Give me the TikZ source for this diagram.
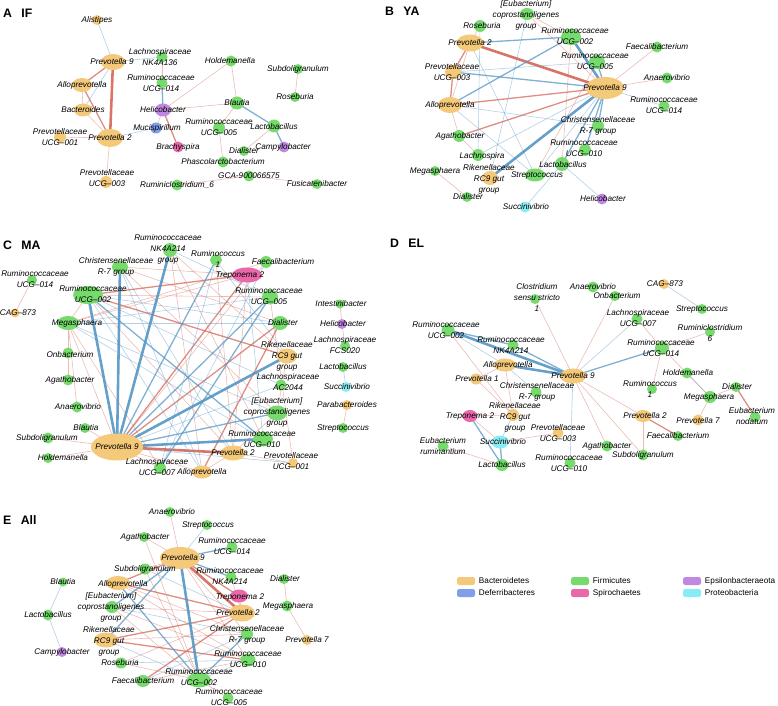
\documentclass[tikz,border=0pt]{standalone}
\usepackage{fontspec}
\setmainfont{Liberation Sans}
\usetikzlibrary{shapes.geometric, positioning, backgrounds}
\definecolor{TxBact}{RGB}{245,201,122}
\definecolor{TxFirm}{RGB}{118,219,108}
\definecolor{TxEpsi}{RGB}{192,136,224}
\definecolor{TxDefe}{RGB}{128,158,234}
\definecolor{TxSpir}{RGB}{233,104,170}
\definecolor{TxProt}{RGB}{136,236,244}
\definecolor{EdNeg}{RGB}{212,102,88}
\definecolor{EdPos}{RGB}{84,150,196}

\begin{document}
\begin{tikzpicture}[x=0.03cm, y=-0.03cm,
      tx/.style={ellipse, inner sep=0pt, draw=none},
      bac/.style={tx, fill=TxBact},
      fir/.style={tx, fill=TxFirm},
      eps/.style={tx, fill=TxEpsi},
      def/.style={tx, fill=TxDefe},
      spi/.style={tx, fill=TxSpir},
      pro/.style={tx, fill=TxProt},
      lab/.style={inner sep=0pt, align=center,
                  font=\fontsize{7}{9.4}\selectfont\itshape},
      ttl/.style={inner sep=0pt, anchor=west,
                  font=\fontsize{10.5}{12}\selectfont\bfseries},
      legbox/.style={rectangle, rounded corners=2pt, inner sep=0pt,
                     minimum width=18*0.03cm, minimum height=8*0.03cm},
      legtxt/.style={inner sep=0pt, font=\fontsize{7}{8}\selectfont},
      rlo/.style={EdNeg, line width=0.5pt, opacity=0.45},
      rmd/.style={EdNeg, line width=1.1pt, opacity=0.75},
      rhi/.style={EdNeg, line width=2.2pt, opacity=0.9},
      blo/.style={EdPos, line width=0.5pt, opacity=0.45},
      bmd/.style={EdPos, line width=1.1pt, opacity=0.75},
      bhi/.style={EdPos, line width=2.2pt, opacity=0.9}
    ]
    \useasboundingbox (0,0) rectangle (778,706);

    %--- A: IF ---
    \node[ttl] (ttl-a) at (3,13) {A\hspace{8pt}IF};
    \foreach \n/\x/\y/\s/\nw/\nh/\lx/\ly/\t in {
      a-ali/97/20/bac/10/10/97/20/Alistipes,
      a-p9/113/62/bac/24/16/112/62/{Prevotella 9},
      a-lnk/162/57/fir/11/11/160/57/{Lachnospiraceae\\NK4A136},
      a-r014/162/83/fir/11/11/161/83/{Ruminococcaceae\\UCG–014},
      a-hol/231/61/fir/11/11/230/61/Holdemanella,
      a-sub/298/69/fir/10/10/298/69/Subdoligranulum,
      a-ros/295/97/fir/10/10/295/97/Roseburia,
      a-allo/82/85/bac/20/14/82/85/Alloprevotella,
      a-bac/83/110/bac/18/13/83/110/Bacteroides,
      a-hel/163/110/eps/16/13/163/110/Helicobacter,
      a-bla/237/103/fir/14/13/237/103/Blautia,
      a-muc/156/128/def/12/11/157/128/Mucispirillum,
      a-u001/60/137/bac/12/12/60/137/{Prevotellaceae\\UCG–001},
      a-p2/110/138/bac/26/18/110/138/{Prevotella 2},
      a-bra/178/147/spi/11/11/178/147/Brachyspira,
      a-r005/219/128/fir/12/12/219/127/{Ruminococcaceae\\UCG–005},
      a-lac/274/126/fir/13/13/274/127/Lactobacillus,
      a-cam/284/147/eps/11/11/283/147/Campylobacter,
      a-dia/244/151/fir/10/10/244/151/Dialister,
      a-pha/223/162/fir/11/11/223/162/Phascolarctobacterium,
      a-u003/106/182/bac/12/12/107/178/{Prevotellaceae\\UCG–003},
      a-gca/249/176/fir/11/11/249/176/GCA-900066575,
      a-rc6/177/185/fir/11/11/177/185/{Ruminiclostridium\_6},
      a-fus/317/184/fir/10/10/317/184/Fusicatenibacter} {
      \node[\s, minimum width=\nw*0.03cm, minimum height=\nh*0.03cm] (\n) at (\x,\y) {};
      \node[lab] (\n-t) at (\lx,\ly) {\t};
    }
    \begin{scope}[on background layer]
      \foreach \a/\b/\st in {
        a-p9/a-p2/rhi, a-p9/a-allo/rmd, a-allo/a-p2/rmd, a-hel/a-bra/rmd,
        a-bac/a-p2/rlo, a-allo/a-bac/rlo, a-u001/a-p2/rlo, a-p2/a-u003/rlo,
        a-lnk/a-r014/rlo, a-hel/a-hol/rlo, a-hel/a-bla/rlo, a-hel/a-muc/rlo,
        a-hol/a-bla/rlo, a-bla/a-r005/rlo, a-r005/a-pha/rlo, a-lac/a-dia/rlo,
        a-sub/a-ros/rlo, a-rc6/a-gca/rlo, a-gca/a-fus/rlo,
        a-ali/a-p9/blo, a-p9/a-lnk/blo, a-p9/a-bac/blo, a-p2/a-muc/blo,
        a-r014/a-hel/bmd, a-bla/a-lac/bmd, a-lac/a-cam/bmd}
        \draw[\st] (\a.center) -- (\b.center);
    \end{scope}

    %--- B: YA ---
    \node[ttl] (ttl-b) at (385,11) {B\hspace{8pt}YA};
    \foreach \n/\x/\y/\s/\nw/\nh/\lx/\ly/\t in {
      b-eub/527/14/fir/14/12/526/15/{[Eubacterium]\\coprostanoligenes\\group},
      b-ros/480/26/fir/12/12/482/26/Roseburia,
      b-p2/470/43/bac/27/17/470/43/{Prevotella 2},
      b-u002/571/37/fir/20/16/575/36/{Ruminococcaceae\\UCG–002},
      b-u005/597/62/fir/16/14/595/61/{Ruminococcaceae\\UCG–005},
      b-fae/657/47/fir/11/11/657/47/Faecalibacterium,
      b-ana/667/78/fir/11/11/667/78/Anaerovibrio,
      b-p9/605/88/bac/38/22/605/88/{Prevotella 9},
      b-u014/664/106/fir/11/11/664/105/{Ruminococcaceae\\UCG–014},
      b-pu003/453/72/bac/16/14/452/72/{Prevotellaceae\\UCG–003},
      b-allo/450/105/bac/24/16/450/105/Alloprevotella,
      b-chr/598/126/fir/12/12/598/126/{Christensenellaceae\\R-7 group},
      b-aga/459/136/fir/12/12/460/136/Agathobacter,
      b-u010/585/150/fir/12/12/584/148/{Ruminococcaceae\\UCG–010},
      b-lach/478/155/fir/12/12/482/156/Lachnospira,
      b-lac/562/164/fir/14/14/563/165/Lactobacillus,
      b-meg/435/171/fir/10/10/435/171/Megasphaera,
      b-rc9/490/178/bac/16/14/489/179/{Rikenellaceae\\RC9 gut\\group},
      b-str/535/175/fir/20/13/537/175/Streptococcus,
      b-dia/467/197/fir/10/10/468/197/Dialister,
      b-suc/525/207/pro/11/11/526/207/Succinivibrio,
      b-hel/602/199/eps/11/11/603/199/Helicobacter} {
      \node[\s, minimum width=\nw*0.03cm, minimum height=\nh*0.03cm] (\n) at (\x,\y) {};
      \node[lab] (\n-t) at (\lx,\ly) {\t};
    }
    \begin{scope}[on background layer]
      \foreach \a/\b/\st in {
        b-p2/b-p9/rhi, b-allo/b-p9/rmd, b-aga/b-p9/rmd, b-pu003/b-allo/rmd,
        b-p2/b-pu003/rmd, b-fae/b-p9/rlo, b-ana/b-p9/rlo, b-p2/b-allo/rlo,
        b-eub/b-u002/rlo, b-aga/b-lach/rlo, b-meg/b-dia/rlo, b-lac/b-u002/rlo,
        b-str/b-u005/rlo, b-aga/b-allo/rlo, b-ros/b-p2/rlo, b-eub/b-p9/rlo,
        b-u002/b-p9/bhi, b-rc9/b-p9/bhi,
        b-p2/b-u002/bmd, b-allo/b-u002/bmd, b-u005/b-p9/bmd, b-chr/b-p9/bmd,
        b-u010/b-p9/bmd, b-lac/b-p9/bmd, b-pu003/b-p9/bmd,
        b-u014/b-p9/blo, b-str/b-p9/blo, b-allo/b-chr/blo, b-ros/b-lach/blo,
        b-eub/b-rc9/blo, b-lac/b-hel/blo, b-suc/b-lac/blo, b-allo/b-str/blo,
        b-p2/b-str/blo, b-pu003/b-u005/blo, b-lach/b-p9/blo}
        \draw[\st] (\a.center) -- (\b.center);
    \end{scope}

    %--- C: MA ---
    \node[ttl] (ttl-c) at (3,245) {C\hspace{8pt}MA};
    \foreach \n/\x/\y/\s/\nw/\nh/\lx/\ly/\t in {
      c-u014/32/280/fir/10/10/35/279/{Ruminococcaceae\\UCG–014},
      c-cag/15/313/bac/9/9/18/313/CAG–873,
      c-u002/88/295/fir/30/18/93/294/{Ruminococcaceae\\UCG–002},
      c-chr/120/267/fir/16/13/116/267/{Christensenellaceae\\R-7 group},
      c-nk/170/250/fir/14/14/168/249/{Ruminococcaceae\\NK4A214\\group},
      c-rum1/216/260/fir/12/11/218/259/{Ruminococcus\\1},
      c-fae/266/262/fir/12/12/283/262/Faecalibacterium,
      c-tre/247/275/spi/30/15/240/275/{Treponema 2},
      c-u005/270/297/fir/16/15/269/296/{Ruminococcaceae\\UCG–005},
      c-int/340/304/fir/9/9/341/304/Intestinibacter,
      c-hel/342/324/eps/10/10/343/324/Helicobacter,
      c-meg/68/323/fir/22/14/77/323/Megasphaera,
      c-dia/280/323/fir/16/14/283/323/Dialister,
      c-lfc/345/346/fir/10/10/345/345/{Lachnospiraceae\\FCS020},
      c-rc9/287/356/bac/20/15/287/356/{Rikenellaceae\\RC9 gut\\group},
      c-onb/68/353/fir/11/11/70/355/Onbacterium,
      c-lac/343/367/fir/10/10/343/367/Lactobacillus,
      c-ac/281/385/fir/11/11/288/382/{Lachnospiraceae\\AC2044},
      c-suc/346/387/pro/10/10/347/387/Succinivibrio,
      c-aga/68/380/fir/11/11/70/380/Agathobacter,
      c-eub/277/413/fir/20/15/277/412/{[Eubacterium]\\coprostanoligenes\\group},
      c-par/347/405/bac/10/10/347/405/Parabacteroides,
      c-ana/77/407/fir/11/11/78/407/Anaerovibrio,
      c-str/343/428/fir/10/10/343/428/Streptococcus,
      c-bla/85/428/fir/10/10/86/428/Blautia,
      c-sub/48/438/fir/11/11/47/438/Subdoligranulum,
      c-p9/117/447/bac/52/27/117/447/{Prevotella 9},
      c-u010/263/439/fir/20/15/262/439/{Ruminococcaceae\\UCG–010},
      c-hol/48/458/fir/10/10/63/458/Holdemanella,
      c-p2/233/453/bac/25/15/233/453/{Prevotella 2},
      c-pu001/293/463/bac/10/10/291/461/{Prevotellaceae\\UCG–001},
      c-u007/160/468/fir/12/12/157/467/{Lachnospiraceae\\UCG–007},
      c-allo/202/472/bac/20/13/202/472/Alloprevotella} {
      \node[\s, minimum width=\nw*0.03cm, minimum height=\nh*0.03cm] (\n) at (\x,\y) {};
      \node[lab] (\n-t) at (\lx,\ly) {\t};
    }
    \begin{scope}[on background layer]
      \foreach \a/\b/\st in {
        c-p9/c-p2/rhi, c-p9/c-dia/rmd, c-p9/c-tre/rmd, c-u002/c-rc9/rmd,
        c-dia/c-allo/rmd, c-u002/c-tre/rmd,
        c-p9/c-meg/rlo, c-p9/c-hol/rlo, c-p9/c-sub/rlo, c-p9/c-bla/rlo,
        c-p9/c-u007/rlo, c-p9/c-allo/rlo, c-p9/c-fae/rlo, c-u002/c-p2/rlo,
        c-u002/c-meg/rlo, c-chr/c-tre/rlo, c-chr/c-eub/rlo, c-nk/c-u010/rlo,
        c-nk/c-allo/rlo, c-rum1/c-p2/rlo, c-fae/c-meg/rlo, c-tre/c-meg/rlo,
        c-tre/c-p2/rlo, c-u005/c-pu001/rlo, c-rc9/c-eub/rlo, c-meg/c-onb/rlo,
        c-meg/c-u007/rlo, c-eub/c-p2/rlo, c-p2/c-allo/rlo, c-p2/c-pu001/rlo,
        c-u014/c-cag/rlo, c-int/c-hel/rlo, c-hel/c-lfc/rlo, c-par/c-str/rlo,
        c-u002/c-u005/rlo, c-chr/c-dia/rlo, c-nk/c-rc9/rlo, c-onb/c-aga/rlo,
        c-meg/c-ana/rlo,
        c-p9/c-u002/bhi, c-p9/c-chr/bhi, c-p9/c-nk/bhi, c-p9/c-rc9/bhi,
        c-p9/c-u010/bhi,
        c-p9/c-rum1/bmd, c-p9/c-u005/bmd, c-u002/c-u010/bmd, c-u005/c-u007/bmd,
        c-p9/c-eub/bmd,
        c-p9/c-ac/blo, c-p9/c-pu001/blo, c-u002/c-dia/blo, c-u002/c-allo/blo,
        c-chr/c-p2/blo, c-nk/c-u005/blo, c-rum1/c-u007/blo, c-rum1/c-rc9/blo,
        c-u005/c-meg/blo, c-dia/c-meg/blo, c-meg/c-u010/blo, c-eub/c-meg/blo,
        c-lac/c-suc/blo, c-u002/c-ac/blo, c-chr/c-allo/blo, c-tre/c-u010/blo,
        c-fae/c-u007/blo}
        \draw[\st] (\a.center) -- (\b.center);
    \end{scope}

    %--- D: EL ---
    \node[ttl] (ttl-d) at (390,243) {D\hspace{8pt}EL};
    \foreach \n/\x/\y/\s/\nw/\nh/\lx/\ly/\t in {
      d-clo/535/299/fir/10/10/537/298/{Clostridium\\sensu stricto\\1},
      d-ana/593/287/fir/11/11/593/287/Anaerovibrio,
      d-onb/615/296/fir/10/10/617/296/Onbacterium,
      d-cag/664/284/bac/10/10/665/284/CAG–873,
      d-str/702/309/fir/10/10/702/309/Streptococcus,
      d-u007/637/319/fir/11/11/638/318/{Lachnospiraceae\\UCG–007},
      d-rc6/710/332/fir/10/10/710/333/{Ruminiclostridium\\6},
      d-u002/448/330/fir/13/12/446/330/{Ruminococcaceae\\UCG–002},
      d-nk/513/345/fir/11/11/511/345/{Ruminococcaceae\\NK4A214},
      d-u014/662/348/fir/14/13/661/348/{Ruminococcaceae\\UCG–014},
      d-allo/505/365/bac/22/13/508/365/Alloprevotella,
      d-p9/573/376/bac/26/15/573/376/{Prevotella 9},
      d-hol/687/373/fir/11/11/688/373/Holdemanella,
      d-pr1/476/379/bac/12/11/477/379/{Prevotella 1},
      d-rum1/652/389/fir/10/10/650/389/{Ruminococcus\\1},
      d-chr/536/392/fir/11/11/537/392/{Christensenellaceae\\R-7 group},
      d-dia/736/387/fir/10/10/737/387/Dialister,
      d-meg/710/397/fir/13/12/709/397/Megasphaera,
      d-rc9/513/415/bac/12/12/515/417/{Rikenellaceae\\RC9 gut\\group},
      d-tre/470/416/spi/15/12/470/416/{Treponema 2},
      d-p2/643/416/bac/17/12/645/416/{Prevotella 2},
      d-eno/755/417/fir/11/11/752/416/{Eubacterium\\nodatum},
      d-p7/698/420/bac/11/11/698/421/{Prevotella 7},
      d-pu003/558/433/bac/11/11/558/433/{Prevotellaceae\\UCG–003},
      d-fae/678/436/fir/10/10/678/436/Faecalibacterium,
      d-suc/500/442/pro/17/13/503/442/Succinivibrio,
      d-eru/443/446/fir/11/11/443/446/{Eubacterium\\ruminantium},
      d-aga/607/446/fir/11/11/607/446/Agathobacter,
      d-u010/570/463/fir/11/11/569/463/{Ruminococcaceae\\UCG–010},
      d-sub/643/455/fir/11/11/643/455/Subdoligranulum,
      d-lac/502/465/fir/13/12/502/465/Lactobacillus} {
      \node[\s, minimum width=\nw*0.03cm, minimum height=\nh*0.03cm] (\n) at (\x,\y) {};
      \node[lab] (\n-t) at (\lx,\ly) {\t};
    }
    \begin{scope}[on background layer]
      \foreach \a/\b/\st in {
        d-p9/d-clo/rlo, d-p9/d-p2/rlo, d-p9/d-aga/rlo, d-p9/d-sub/rlo,
        d-p9/d-onb/rlo, d-u002/d-rc9/rlo, d-allo/d-pr1/rlo, d-pr1/d-rc9/rlo,
        d-tre/d-rc9/rlo, d-eru/d-lac/rlo, d-u007/d-u014/rlo, d-u014/d-rc6/rlo,
        d-u014/d-rum1/rlo, d-meg/d-dia/rlo, d-meg/d-p7/rlo, d-p2/d-sub/rlo,
        d-suc/d-pu003/rlo, d-tre/d-suc/rlo, d-allo/d-rc9/rlo, d-u014/d-meg/rlo,
        d-dia/d-eno/rmd, d-p2/d-fae/rmd,
        d-p9/d-u002/bhi, d-p9/d-allo/bhi,
        d-p9/d-nk/bmd, d-p9/d-u014/bmd, d-tre/d-lac/bmd, d-suc/d-lac/bmd,
        d-u002/d-nk/bmd,
        d-p9/d-u007/blo, d-p9/d-u010/blo, d-u002/d-allo/blo, d-allo/d-chr/blo,
        d-cag/d-str/blo, d-hol/d-meg/blo, d-suc/d-rc9/blo}
        \draw[\st] (\a.center) -- (\b.center);
    \end{scope}

    %--- E: All ---
    \node[ttl] (ttl-e) at (3,520) {E\hspace{8pt}All};
    \foreach \n/\x/\y/\s/\nw/\nh/\lx/\ly/\t in {
      e-ana/170/512/fir/10/10/172/512/Anaerovibrio,
      e-str/207/525/fir/10/10/208/525/Streptococcus,
      e-aga/144/537/fir/10/10/145/537/Agathobacter,
      e-u014/232/547/fir/11/11/232/546/{Ruminococcaceae\\UCG–014},
      e-p9/180/558/bac/40/22/183/558/{Prevotella 9},
      e-sub/145/569/fir/12/11/145/569/Subdoligranulum,
      e-nk/231/577/fir/11/11/230/576/{Ruminococcaceae\\NK4A214},
      e-dia/284/579/fir/10/10/285/579/Dialister,
      e-bla/63/582/fir/9/9/63/582/Blautia,
      e-allo/118/583/bac/24/14/123/584/Alloprevotella,
      e-tre/239/596/spi/18/13/240/597/{Treponema 2},
      e-meg/287/606/fir/11/11/288/606/Megasphaera,
      e-eub/112/607/fir/13/12/111/607/{[Eubacterium]\\coprostanoligenes\\group},
      e-lac/48/615/fir/11/11/48/615/Lactobacillus,
      e-p2/242/613/bac/26/17/238/613/{Prevotella 2},
      e-chr/247/634/fir/12/12/247/635/{Christensenellaceae\\R-7 group},
      e-rc9/106/640/bac/24/15/109/641/{Rikenellaceae\\RC9 gut\\group},
      e-p7/307/640/bac/10/10/307/640/{Prevotella 7},
      e-cam/62/652/eps/10/10/62/652/Campylobacter,
      e-u010/248/660/fir/15/13/248/659/{Ruminococcaceae\\UCG–010},
      e-ros/121/663/fir/12/11/120/663/Roseburia,
      e-u002/199/680/fir/24/15/199/677/{Ruminococcaceae\\UCG–002},
      e-fae/143/681/fir/14/12/143/681/Faecalibacterium,
      e-u005/228/698/fir/11/11/229/697/{Ruminococcaceae\\UCG–005}} {
      \node[\s, minimum width=\nw*0.03cm, minimum height=\nh*0.03cm] (\n) at (\x,\y) {};
      \node[lab] (\n-t) at (\lx,\ly) {\t};
    }
    \begin{scope}[on background layer]
      \foreach \a/\b/\st in {
        e-p9/e-p2/rhi, e-p9/e-tre/rmd, e-p9/e-allo/rmd, e-rc9/e-p2/rmd,
        e-allo/e-p2/rmd, e-fae/e-p2/rmd, e-rc9/e-u010/rmd,
        e-p9/e-ana/rlo, e-p9/e-aga/rlo, e-p9/e-sub/rlo, e-p9/e-chr/rlo,
        e-p9/e-u010/rlo, e-sub/e-u002/rlo, e-eub/e-p2/rlo, e-ros/e-p2/rlo,
        e-ros/e-u002/rlo, e-fae/e-u010/rlo, e-u005/e-u002/rlo, e-nk/e-p2/rlo,
        e-tre/e-p2/rlo, e-allo/e-chr/rlo, e-allo/e-u010/rlo, e-rc9/e-chr/rlo,
        e-eub/e-u010/rlo, e-dia/e-meg/rlo, e-meg/e-p7/rlo, e-aga/e-u002/rlo,
        e-eub/e-u002/rlo,
        e-p9/e-u002/bhi,
        e-p9/e-u014/bmd, e-p9/e-nk/bmd, e-p9/e-rc9/bmd, e-allo/e-u002/bmd,
        e-chr/e-u002/bmd, e-p9/e-eub/bmd,
        e-p9/e-str/blo, e-bla/e-lac/blo, e-lac/e-cam/blo, e-sub/e-p2/blo,
        e-eub/e-chr/blo, e-rc9/e-u002/blo, e-ros/e-u010/blo, e-u002/e-u010/blo,
        e-fae/e-chr/blo}
        \draw[\st] (\a.center) -- (\b.center);
    \end{scope}

    %--- Legend ---
    \foreach \n/\x/\y/\c/\t in {
      lg-bac/466/581/TxBact/Bacteroidetes,
      lg-fir/580/581/TxFirm/Firmicutes,
      lg-eps/692/581/TxEpsi/Epsilonbacteraeota,
      lg-def/466/593/TxDefe/Deferribacteres,
      lg-spi/580/593/TxSpir/Spirochaetes,
      lg-pro/692/593/TxProt/Proteobacteria} {
      \node[legbox, fill=\c] (\n) at (\x,\y) {};
      \node[legtxt, right=3pt of \n] (\n-t) {\t};
    }
  \end{tikzpicture}
\end{document}
